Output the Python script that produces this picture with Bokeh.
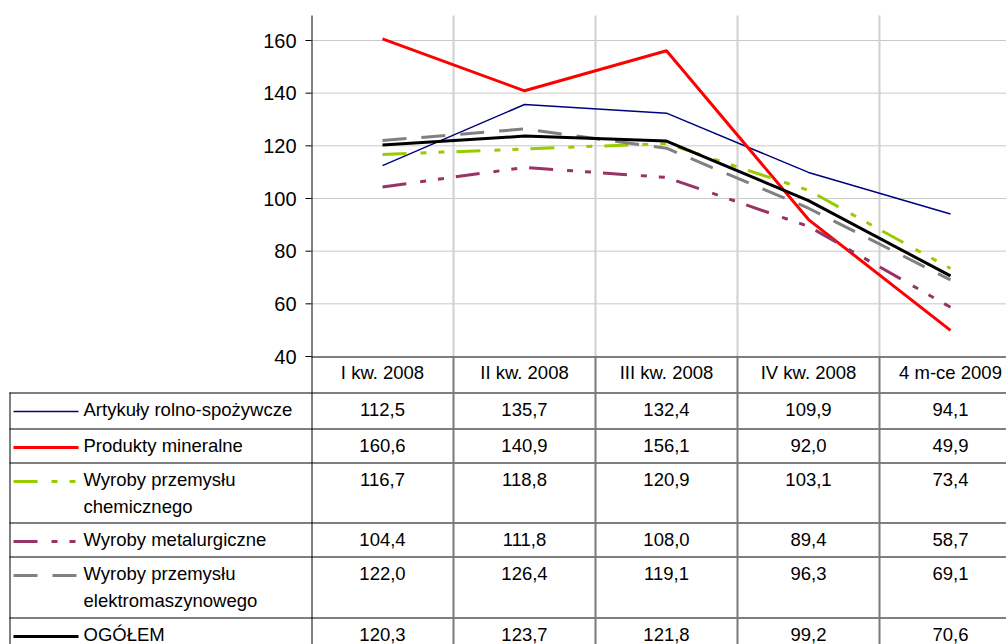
from bokeh.plotting import figure
from bokeh.models import Range1d
from bokeh.core.properties import value
from bokeh.embed import file_html
from bokeh.resources import INLINE

# ---------------- data ----------------
categories = ["I kw. 2008", "II kw. 2008", "III kw. 2008", "IV kw. 2008", "4 m-ce 2009"]
series_labels = [
    "Artykuły rolno-spożywcze",
    "Produkty mineralne",
    "Wyroby przemysłu\nchemicznego",
    "Wyroby metalurgiczne",
    "Wyroby przemysłu\nelektromaszynowego",
    "OGÓŁEM",
]
rolno_spozywcze = [112.5, 135.7, 132.4, 109.9, 94.1]
produkty_mineralne = [160.6, 140.9, 156.1, 92.0, 49.9]
przemysl_chemiczny = [116.7, 118.8, 120.9, 103.1, 73.4]
metalurgiczne = [104.4, 111.8, 108.0, 89.4, 58.7]
elektromaszynowe = [122.0, 126.4, 119.1, 96.3, 69.1]
ogolem = [120.3, 123.7, 121.8, 99.2, 70.6]
y_ticks = [40, 60, 80, 100, 120, 140, 160]

series_values = [rolno_spozywcze, produkty_mineralne, przemysl_chemiczny,
                 metalurgiczne, elektromaszynowe, ogolem]

# ---------------- styles ----------------
colors = ["#000080", "#FF0000", "#99CC00", "#993366", "#808080", "#000000"]
widths = [1.5, 3, 3, 3, 3, 3]
dashes = ["solid", "solid", "24 14 6 12 6 12", "24 14 6 12 6 12", "24 15", "solid"]
FONT = value("Liberation Sans")
TSIZE = value("18.5px")

# ---------------- layout (canvas pixels) ----------------
W, H = 1006, 644
LEFT, TOP = 0, 0
RIGHT, BOTTOM = LEFT + W, TOP + H
X0 = 311                 # x of category area start
COLW = 142               # category width in px
Y_TOP_AXIS = 15          # y of axis top
Y160, Y40 = 40, 356      # y of 160 and 40
HEADER_TOP = 356
ROW_TOPS = [392, 428, 462, 522, 556, 617]
LINE_GAP = 27

ppu = (Y40 - Y160) / 120.0
y_lo = 40 - (BOTTOM - Y40) / ppu
y_hi = 160 + (Y160 - TOP) / ppu
y_axis_top = 160 + (Y160 - Y_TOP_AXIS) / ppu

n = len(categories)
xs = [i + 0.5 for i in range(n)]

p = figure(width=W, height=H,
           x_range=Range1d(-(X0 - LEFT) / COLW, (RIGHT - X0) / COLW),
           y_range=Range1d(y_lo, y_hi),
           x_axis_location=None, y_axis_location=None,
           output_backend="svg", toolbar_location=None, min_border=0)
p.min_border_left = p.min_border_right = p.min_border_top = p.min_border_bottom = 0
p.extra_x_ranges = {"px": Range1d(LEFT, RIGHT)}
p.extra_y_ranges = {"py": Range1d(BOTTOM, TOP)}
p.outline_line_color = None
p.grid.visible = False
p.background_fill_color = "white"
p.border_fill_color = "white"

# ---- chart grid ----
hg = y_ticks[1:]
p.segment(x0=[X0] * len(hg), y0=hg, x1=[RIGHT] * len(hg), y1=hg,
          x_range_name="px", line_color="#c8c8c8", line_width=1)
vg = list(range(1, n))
p.segment(x0=vg, y0=[y_ticks[0]] * len(vg), x1=vg, y1=[y_axis_top] * len(vg),
          line_color="#d0d0d0", line_width=2)

# ---- y axis ----
p.segment(x0=[X0 + 0.5], y0=[y_ticks[0]], x1=[X0 + 0.5], y1=[y_axis_top],
          x_range_name="px", line_color="black", line_width=1)
p.segment(x0=[X0 - 6] * len(y_ticks), y0=y_ticks, x1=[X0] * len(y_ticks), y1=y_ticks,
          x_range_name="px", line_color="black", line_width=1)
p.text(x=[X0 - 15] * len(y_ticks), y=y_ticks, text=[str(v) for v in y_ticks],
       x_range_name="px", text_font=FONT, text_font_size=value("20px"),
       text_color="black", text_align="right", text_baseline="middle")

# ---- series ----
for vals, c, w, d in zip(series_values, colors, widths, dashes):
    p.line(xs, vals, line_color=c, line_width=w, line_dash=d)

# ---------------- table ----------------
# horizontal rules
p.segment(x0=[X0], y0=[HEADER_TOP + 0.5], x1=[RIGHT], y1=[HEADER_TOP + 0.5],
          x_range_name="px", y_range_name="py", line_color="black", line_width=1)
p.segment(x0=[9] * len(ROW_TOPS), y0=[r + 0.5 for r in ROW_TOPS],
          x1=[RIGHT] * len(ROW_TOPS), y1=[r + 0.5 for r in ROW_TOPS],
          x_range_name="px", y_range_name="py", line_color="black", line_width=1)
# vertical rules
p.segment(x0=[9.5], y0=[ROW_TOPS[0]], x1=[9.5], y1=[BOTTOM],
          x_range_name="px", y_range_name="py", line_color="black", line_width=1)
p.segment(x0=[X0 + 0.5], y0=[HEADER_TOP], x1=[X0 + 0.5], y1=[BOTTOM],
          x_range_name="px", y_range_name="py", line_color="black", line_width=1)
p.segment(x0=vg, y0=[HEADER_TOP] * len(vg), x1=vg, y1=[BOTTOM] * len(vg),
          y_range_name="py", line_color="#7a7a7a", line_width=2)

# header
p.text(x=xs, y=[HEADER_TOP + 16] * n, text=categories, y_range_name="py",
       text_font=FONT, text_font_size=TSIZE, text_color="black",
       text_align="center", text_baseline="middle")

# rows
for r, (label, vals, c, w, d) in enumerate(zip(series_labels, series_values, colors, widths, dashes)):
    ymid = ROW_TOPS[r] + 17
    p.text(x=xs, y=[ymid] * n, y_range_name="py",
           text=[f"{v:.1f}".replace(".", ",") for v in vals],
           text_font=FONT, text_font_size=TSIZE, text_color="black",
           text_align="center", text_baseline="middle")
    lines = label.split("\n")
    p.text(x=[83] * len(lines), y=[ymid + LINE_GAP * j for j in range(len(lines))],
           x_range_name="px", y_range_name="py",
           text=lines, text_font=FONT, text_font_size=TSIZE, text_color="black",
           text_align="left", text_baseline="middle")
    p.line([13, 78], [ymid + 2, ymid + 2], x_range_name="px", y_range_name="py",
           line_color=c, line_width=w, line_dash=d)

open("out.html", "w").write(file_html(p, INLINE))
